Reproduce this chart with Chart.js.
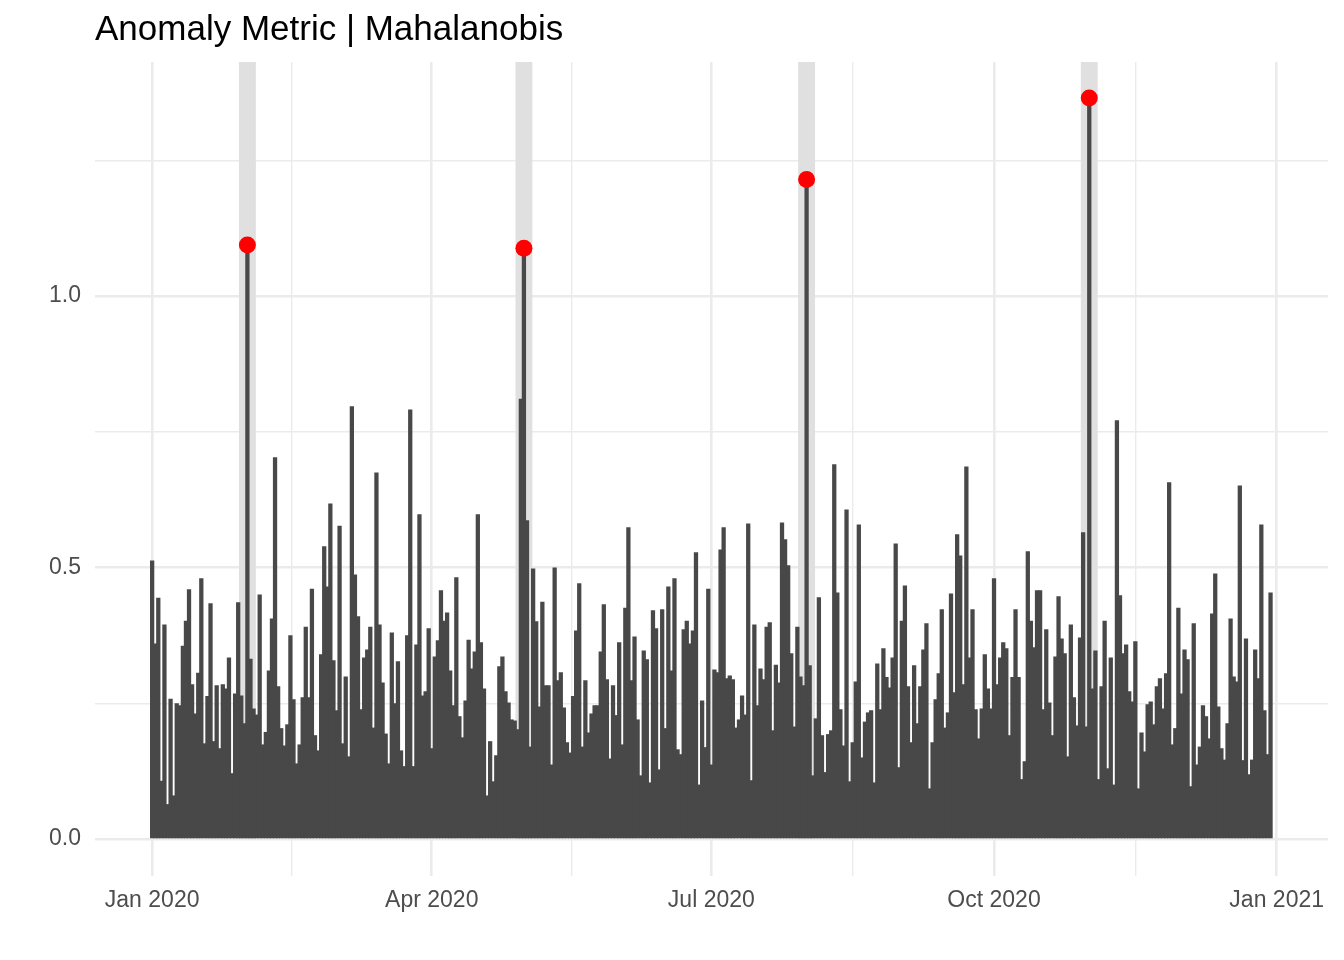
<!DOCTYPE html>
<html>
<head>
<meta charset="utf-8">
<title>Anomaly Metric | Mahalanobis</title>
<script src="https://cdn.jsdelivr.net/npm/chart.js@4.4.1/dist/chart.umd.min.js"></script>
<style>
  html, body { margin: 0; padding: 0; background: #ffffff; }
  #wrap { width: 1344px; height: 960px; }
</style>
</head>
<body>
<div id="wrap"><canvas id="grafico" width="1344" height="960"></canvas></div>
<script>
const chartTitle = 'Anomaly Metric | Mahalanobis';

// daily metric, Jan 1 2020 = day 0
const metric = [
  0.512, 0.359, 0.443, 0.106, 0.394, 0.063, 0.257, 0.079, 0.249, 0.245,
  0.355, 0.401, 0.459, 0.284, 0.230, 0.305, 0.479, 0.175, 0.262, 0.433,
  0.179, 0.282, 0.166, 0.284, 0.276, 0.333, 0.120, 0.267, 0.435, 0.263,
  0.212, 1.094, 0.331,
  0.239, 0.228, 0.449, 0.173, 0.196, 0.309, 0.405, 0.702, 0.280, 0.203,
  0.171, 0.210, 0.374, 0.256, 0.138, 0.173, 0.260, 0.390, 0.260, 0.460,
  0.190, 0.162, 0.339, 0.538, 0.464, 0.617, 0.328, 0.236, 0.576, 0.175,
  0.298, 0.151, 0.796, 0.486,
  0.409, 0.238, 0.333, 0.348, 0.390, 0.204, 0.674, 0.394, 0.287, 0.193,
  0.138, 0.379, 0.249, 0.326, 0.162, 0.133, 0.374, 0.790, 0.133, 0.357,
  0.597, 0.263, 0.271, 0.387, 0.166, 0.335, 0.365, 0.457, 0.401, 0.416,
  0.309, 0.245, 0.481,
  0.225, 0.186, 0.254, 0.366, 0.313, 0.344, 0.597, 0.361, 0.276, 0.079,
  0.179, 0.105, 0.153, 0.317, 0.335, 0.271, 0.250, 0.219, 0.217, 0.201,
  0.810, 1.088, 0.586, 0.169, 0.497, 0.400, 0.243, 0.436, 0.282, 0.282,
  0.136, 0.499, 0.291,
  0.306, 0.241, 0.177, 0.158, 0.262, 0.383, 0.470, 0.169, 0.291, 0.195,
  0.230, 0.245, 0.245, 0.344, 0.431, 0.293, 0.147, 0.282, 0.227, 0.361,
  0.173, 0.425, 0.573, 0.291, 0.372, 0.219, 0.116, 0.346, 0.330, 0.103,
  0.420, 0.387, 0.127,
  0.422, 0.203, 0.464, 0.309, 0.479, 0.164, 0.155, 0.385, 0.401, 0.359,
  0.383, 0.527, 0.099, 0.254, 0.168, 0.460, 0.136, 0.311, 0.306, 0.532,
  0.573, 0.295, 0.300, 0.293, 0.204, 0.219, 0.263, 0.228, 0.580, 0.107,
  0.394, 0.245, 0.313,
  0.293, 0.390, 0.398, 0.199, 0.320, 0.287, 0.582, 0.551, 0.503, 0.341,
  0.206, 0.390, 0.298, 0.282, 1.215, 0.319, 0.116, 0.221, 0.444, 0.190,
  0.122, 0.192, 0.199, 0.689, 0.453, 0.238, 0.171, 0.606, 0.105, 0.177,
  0.289, 0.578, 0.149,
  0.215, 0.232, 0.236, 0.103, 0.322, 0.238, 0.350, 0.297, 0.278, 0.333,
  0.543, 0.131, 0.401, 0.466, 0.280, 0.177, 0.319, 0.212, 0.280, 0.348,
  0.396, 0.092, 0.177, 0.256, 0.304, 0.422, 0.204, 0.232, 0.451, 0.269,
  0.560, 0.521, 0.284,
  0.685, 0.333, 0.422, 0.238, 0.184, 0.239, 0.339, 0.276, 0.239, 0.479,
  0.284, 0.333, 0.361, 0.350, 0.190, 0.297, 0.422, 0.297, 0.109, 0.142,
  0.529, 0.401, 0.352, 0.457, 0.457, 0.238, 0.385, 0.250, 0.190, 0.335,
  0.446, 0.368, 0.341,
  0.151, 0.394, 0.260, 0.208, 0.370, 0.564, 0.206, 1.365, 0.276, 0.346,
  0.109, 0.280, 0.401, 0.129, 0.333, 0.099, 0.770, 0.448, 0.341, 0.357,
  0.271, 0.252, 0.363, 0.092, 0.195, 0.160, 0.247, 0.252, 0.210, 0.280,
  0.295, 0.239, 0.304,
  0.656, 0.173, 0.203, 0.425, 0.267, 0.348, 0.330, 0.096, 0.396, 0.136,
  0.169, 0.245, 0.225, 0.184, 0.414, 0.488, 0.243, 0.166, 0.145, 0.212,
  0.405, 0.298, 0.289, 0.650, 0.144, 0.368, 0.118, 0.145, 0.348, 0.295,
  0.578, 0.236, 0.155, 0.453
];

// days flagged as anomalies (Feb 1, May 1, Aug 1, Nov 1)
const anomalyDays = [31, 121, 213, 305];

const xTickDays = [0, 91, 182, 274, 366];
const xTickLabels = ['Jan 2020', 'Apr 2020', 'Jul 2020', 'Oct 2020', 'Jan 2021'];
const xMinorDays = [45.5, 136.5, 228, 320];

const yTicks = [0, 0.5, 1.0];
const yTickLabels = ['0.0', '0.5', '1.0'];
const yMinor = [0.25, 0.75, 1.25];

const bandHalfWidth = 2.75;

function montaPontos() {
  return metric.map((v, i) => ({ x: i, y: v }));
}

function montaAnomalias() {
  return anomalyDays.map(d => ({ x: d, y: metric[d] }));
}

const faixasPlugin = {
  id: 'faixas',
  beforeDatasetsDraw(chart) {
    const { ctx, chartArea, scales } = chart;
    ctx.save();
    ctx.fillStyle = '#e0e0e0';
    anomalyDays.forEach(d => {
      const left = scales.x.getPixelForValue(d - bandHalfWidth);
      const right = scales.x.getPixelForValue(d + bandHalfWidth);
      const bottom = scales.y.getPixelForValue(0);
      ctx.fillRect(left, chartArea.top, right - left, bottom - chartArea.top);
    });
    ctx.restore();
  }
};

const tituloPlugin = {
  id: 'titulo',
  afterDraw(chart) {
    const { ctx, chartArea } = chart;
    ctx.save();
    ctx.font = '35px "Liberation Sans", Arial, Helvetica, sans-serif';
    ctx.fillStyle = '#000000';
    ctx.textAlign = 'left';
    ctx.textBaseline = 'alphabetic';
    ctx.fillText(chartTitle, chartArea.left, 40);
    ctx.restore();
  }
};

function constroiGrafico() {
  const fonte = { family: '"Liberation Sans", Arial, Helvetica, sans-serif', size: 23 };
  const corGrade = '#ebebeb';

  const data = {
    datasets: [
      {
        type: 'scatter',
        data: montaAnomalias(),
        backgroundColor: '#ff0000',
        borderColor: '#ff0000',
        pointRadius: 8.5,
        pointHoverRadius: 8.5,
        borderWidth: 0,
        order: 1
      },
      {
        type: 'bar',
        data: montaPontos(),
        backgroundColor: '#484848',
        borderWidth: 0,
        inflateAmount: 0.6,
        barPercentage: 1,
        categoryPercentage: 1,
        order: 2
      }
    ]
  };

  const config = {
    data: data,
    plugins: [faixasPlugin, tituloPlugin],
    options: {
      responsive: false,
      animation: false,
      devicePixelRatio: 1,
      events: [],
      layout: {
        padding: { left: 0, right: 16, top: 62, bottom: 0 }
      },
      plugins: {
        legend: { display: false },
        title: { display: false },
        tooltip: { enabled: false }
      },
      scales: {
        x: {
          type: 'linear',
          min: -18.6,
          max: 382.7,
          offset: false,
          border: { display: false },
          grid: {
            offset: false,
            drawTicks: false,
            color: corGrade,
            lineWidth: ctx => (ctx.tick && xMinorDays.includes(ctx.tick.value)) ? 1.4 : 2.6
          },
          ticks: {
            autoSkip: false,
            maxRotation: 0,
            padding: 11,
            color: '#4d4d4d',
            font: fonte,
            callback: value => {
              const k = xTickDays.indexOf(value);
              return k >= 0 ? xTickLabels[k] : '';
            }
          },
          afterBuildTicks: scale => {
            scale.ticks = xTickDays.concat(xMinorDays).sort((a, b) => a - b).map(v => ({ value: v }));
          },
          afterFit: scale => { scale.height = 84; }
        },
        y: {
          type: 'linear',
          min: -0.0683,
          max: 1.4313,
          border: { display: false },
          grid: {
            drawTicks: false,
            color: corGrade,
            lineWidth: ctx => (ctx.tick && yMinor.includes(ctx.tick.value)) ? 1.4 : 2.6
          },
          ticks: {
            padding: 14,
            color: '#4d4d4d',
            font: fonte,
            callback: value => {
              const k = yTicks.indexOf(value);
              return k >= 0 ? yTickLabels[k] : '';
            }
          },
          afterBuildTicks: scale => {
            scale.ticks = yTicks.concat(yMinor).sort((a, b) => a - b).map(v => ({ value: v }));
          },
          afterFit: scale => { scale.width = 95; }
        }
      }
    }
  };

  new Chart(document.getElementById('grafico'), config);
}

constroiGrafico();
</script>
</body>
</html>
